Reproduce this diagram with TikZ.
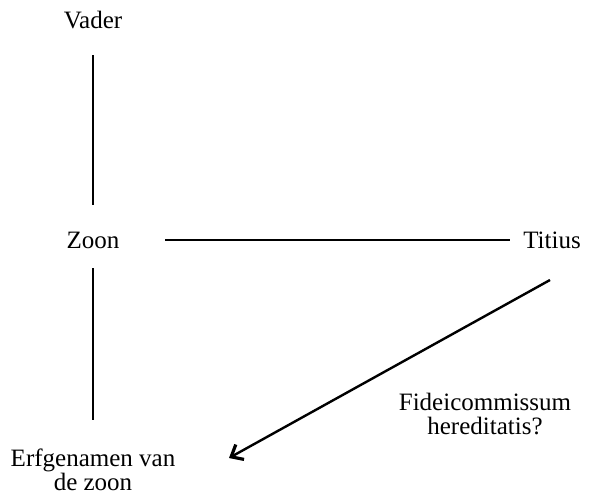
\documentclass[tikz,border=0pt]{standalone}
\usepackage{fontspec}
\setmainfont{Liberation Serif}
\usetikzlibrary{arrows.meta}
\begin{document}
\begin{tikzpicture}[x=1pt,y=-1pt,
  every node/.style={font=\fontsize{25}{24}\selectfont,align=center},
  link/.style={line width=2.4pt}]
  \useasboundingbox (0,0) rectangle (612,496);
  \node (vader) at (93,20) {Vader};
  \node (zoon) at (93,240) {Zoon};
  \node (titius) at (552,240) {Titius};
  \node (erfgenamen) at (93,470) {Erfgenamen van\\de zoon};
  \node (fideicommissum) at (485,414) {Fideicommissum\\hereditatis?};
  \coordinate (from) at (550,280);
  \coordinate (to) at (229,458);
  \draw[link,shorten <=35pt,shorten >=35pt] (vader.center) -- (zoon.center);
  \draw[link,shorten <=28pt,shorten >=50pt] (zoon.center) -- (erfgenamen.center);
  \draw[link,shorten <=72pt,shorten >=42pt] (zoon.center) -- (titius.center);
  \draw[link,-{Straight Barb[length=10pt,width=17pt,line width=3.2pt]}] (from) -- (to);
\end{tikzpicture}
\end{document}
